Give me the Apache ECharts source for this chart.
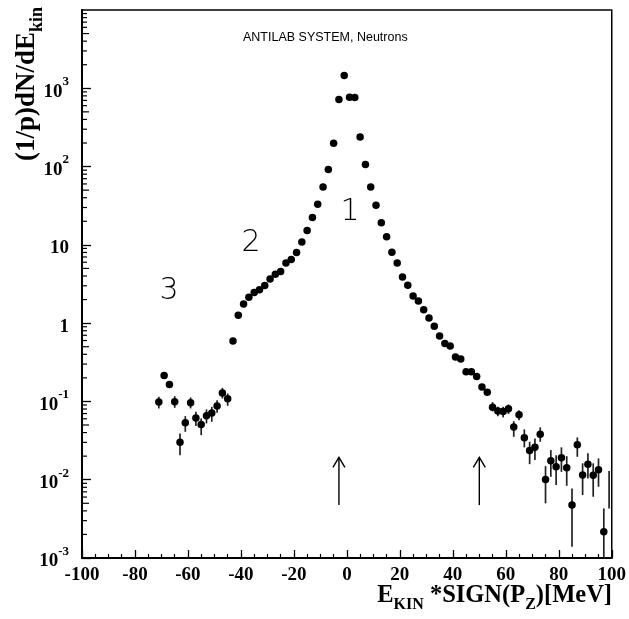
<!DOCTYPE html>
<html><head><meta charset="utf-8">
<script src="https://cdn.jsdelivr.net/npm/echarts@6/dist/echarts.min.js"></script>
<style>html,body{margin:0;padding:0;background:#fff}#c{width:629px;height:619px}</style>
</head><body><div id="c"></div>
<script>
// --- data ---
const energy = [-71,-69,-67,-65,-63,-61,-59,-57,-55,-53,-51,-49,-47,-45,-43,-41,-39,-37,-35,-33,-31,-29,-27,-25,-23,-21,-19,-17,-15,-13,-11,-9,-7,-5,-3,-1,
  1,3,5,7,9,11,13,15,17,19,21,23,25,27,29,31,33,35,37,39,41,43,45,47,49,51,53,55,57,59,61,63,65,67,69,71,73,75,77,79,81,83,85,87,89,91,93,95,97];
const yieldVals = [0.098,0.214,0.164,0.099,0.030,0.0533,0.096,0.0612,0.0508,0.0655,0.0709,0.0871,0.128,0.108,0.593,1.26,1.76,2.14,2.46,2.68,3.02,3.66,4.21,4.56,5.87,6.48,7.96,10.9,15.2,22.3,33,55,92,198,721,1459,
  771,760,238,106,54.8,32,19.2,12.7,8.04,5.87,3.89,3.05,2.23,1.92,1.48,1.16,0.914,0.687,0.549,0.512,0.370,0.349,0.239,0.239,0.208,0.153,0.131,0.0845,0.0752,0.0745,0.0804,0.047,0.0675,0.0343,0.0237,0.0259,0.0382,0.0101,0.0175,0.0146,0.0191,0.0142,0.00475,0.0279,0.0115,0.0158,0.0114,0.0134,0.00217];
const errE  = [-71,-65,-63,-61,-59,-57,-55,-53,-51,-49,-47,-45,55,57,59,61,63,65,67,69,71,73,75,77,79,81,83,85,87,89,91,93,95,97,99];
const errLo = [0.0813,0.0828,0.0206,0.0409,0.0813,0.0484,0.0371,0.0524,0.055,0.0715,0.109,0.0879,0.0745,0.0649,0.0625,0.0689,0.0353,0.0577,0.0259,0.0158,0.0178,0.0305,0.00499,0.0109,0.00855,0.0126,0.00837,0.00139,0.0196,0.00637,0.0104,0.00606,0.00813,0.001,0.0043];
const errHi = [0.1145,0.1167,0.039,0.0649,0.1125,0.0736,0.0607,0.079,0.0853,0.1038,0.149,0.1265,0.098,0.0853,0.0853,0.0915,0.056,0.0774,0.0439,0.0305,0.0337,0.0466,0.0149,0.0239,0.0206,0.0259,0.020,0.00775,0.0347,0.0162,0.0217,0.0162,0.0187,0.0043,0.0129];
const arrowE = [-3, 50];
const arrowLo = [0.00474, 0.00474];
const arrowHi = [0.0193, 0.0193];
const xTicks = [-100,-80,-60,-40,-20,0,20,40,60,80,100];

const chart = echarts.init(document.getElementById('c'), null, {renderer:'canvas'});
const serif = 'Liberation Serif';

// minor log ticks (2..9 per decade)
const minorTicks = [];
for (let d = -3; d < 4; d++) for (let k = 2; k <= 9; k++) minorTicks.push([-100, k * Math.pow(10, d), k === 5 ? 7 : 5]);

const option = {
  animation: false,
  backgroundColor: '#fff',
  grid: {left: 82, right: 14, top: 10, bottom: 61, show: true, borderColor: '#000', borderWidth: 1.5, backgroundColor: 'transparent'},
  xAxis: {
    type: 'value', min: xTicks[0], max: xTicks[xTicks.length-1], interval: 20,
    axisLine: {show: true, onZero: false, lineStyle: {color: '#000', width: 2}},
    axisTick: {show: true, inside: true, length: 8, lineStyle: {color: '#000', width: 1.3}},
    minorTick: {show: true, splitNumber: 4, length: 4, lineStyle: {color: '#000', width: 1.2}},
    splitLine: {show: false},
    axisLabel: {margin: 8, color: '#000', fontFamily: serif, fontWeight: 'bold', fontSize: 19}
  },
  yAxis: {
    type: 'log', logBase: 10, min: 0.001, max: 10000, splitNumber: 7,
    axisLine: {show: true, onZero: false, lineStyle: {color: '#000', width: 2}},
    axisTick: {show: true, inside: true, length: 9, lineStyle: {color: '#000', width: 1.3}},
    minorTick: {show: false},
    splitLine: {show: false},
    axisLabel: {
      margin: 13, showMaxLabel: false,
      formatter: function (v) {
        const e = Math.round(Math.log10(v));
        if (e === 4) return '';
        if (e === 0) return '{b|1}';
        if (e === 1) return '{b|10}';
        return '{b|10}{s|' + e + '}';
      },
      rich: {
        b: {fontFamily: serif, fontWeight: 'bold', fontSize: 19, color: '#000', lineHeight: 26, verticalAlign: 'bottom'},
        s: {fontFamily: serif, fontWeight: 'bold', fontSize: 13, color: '#000', lineHeight: 13, verticalAlign: 'top'}
      }
    }
  },
  series: [
    {
      type: 'custom', name: 'minorTicks', clip: false, silent: true,
      data: minorTicks,
      renderItem: function (params, api) {
        const p = api.coord([api.value(0), api.value(1)]);
        return {type: 'line', shape: {x1: p[0], y1: p[1], x2: p[0] + api.value(2), y2: p[1]}, style: {stroke: '#000', lineWidth: 1.2}};
      }
    },
    {
      type: 'custom', name: 'errors', clip: true, silent: true,
      data: errE.map((e, i) => [e, errLo[i], errHi[i]]),
      renderItem: function (params, api) {
        const a = api.coord([api.value(0), api.value(1)]);
        const b = api.coord([api.value(0), api.value(2)]);
        return {type: 'line', shape: {x1: a[0], y1: a[1], x2: b[0], y2: b[1]}, style: {stroke: '#222', lineWidth: 1.7}};
      }
    },
    {
      type: 'scatter', name: 'neutrons', symbol: 'circle', symbolSize: 7.5,
      itemStyle: {color: '#000', opacity: 1},
      data: energy.map((e, i) => [e, yieldVals[i]])
    },
    {
      type: 'custom', name: 'arrows', clip: false, silent: true,
      data: arrowE.map((e, i) => [e, arrowLo[i], arrowHi[i]]),
      renderItem: function (params, api) {
        const a = api.coord([api.value(0), api.value(1)]);
        const b = api.coord([api.value(0), api.value(2)]);
        return {type: 'group', children: [
          {type: 'line', shape: {x1: a[0], y1: a[1], x2: b[0], y2: b[1]}, style: {stroke: '#000', lineWidth: 1.4}},
          {type: 'polyline', shape: {points: [[b[0]-6, b[1]+10], [b[0], b[1]], [b[0]+6, b[1]+10]]}, style: {stroke: '#000', lineWidth: 1.4, fill: null}}
        ]};
      }
    }
  ],
  graphic: [
    {type: 'text', left: 243, top: 31, style: {text: 'ANTILAB SYSTEM, Neutrons', fontFamily: 'Liberation Sans', fontSize: 12.5, fill: '#000'}},
    {type: 'text', x: 350, y: 212, style: {text: '1', fontFamily: 'DejaVu Sans', fontWeight: 200, fontSize: 30, fill: '#000', align: 'center', verticalAlign: 'middle'}},
    {type: 'text', x: 251, y: 243, style: {text: '2', fontFamily: 'DejaVu Sans', fontWeight: 200, fontSize: 30, fill: '#000', align: 'center', verticalAlign: 'middle'}},
    {type: 'text', x: 169, y: 291, style: {text: '3', fontFamily: 'DejaVu Sans', fontWeight: 200, fontSize: 30, fill: '#000', align: 'center', verticalAlign: 'middle'}},
    {type: 'text', x: 30, y: 84, rotation: Math.PI / 2,
      style: {text: '{m|(1/p)dN/dE}{k|kin}', align: 'center', verticalAlign: 'middle',
        rich: {
          m: {fontFamily: serif, fontWeight: 'bold', fontSize: 27, fill: '#000', lineHeight: 32, verticalAlign: 'top'},
          k: {fontFamily: serif, fontWeight: 'bold', fontSize: 18, fill: '#000', lineHeight: 18, verticalAlign: 'bottom'}
        }}},
    {type: 'text', x: 612, y: 598,
      style: {text: '{m|E}{k|KIN}{m| *SIGN(P}{k|Z}{m|)[MeV]}', align: 'right', verticalAlign: 'middle',
        rich: {
          m: {fontFamily: serif, fontWeight: 'bold', fontSize: 24.5, fill: '#000', lineHeight: 30, verticalAlign: 'top'},
          k: {fontFamily: serif, fontWeight: 'bold', fontSize: 16, fill: '#000', lineHeight: 15, verticalAlign: 'bottom'}
        }}}
  ]
};
chart.setOption(option);
</script>
</body></html>
